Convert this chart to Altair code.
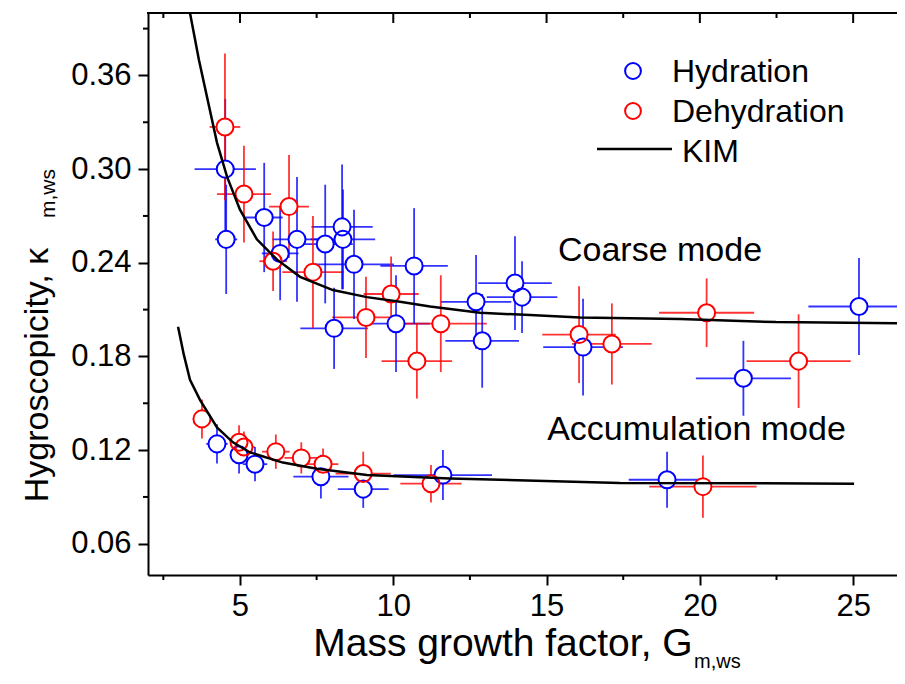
import altair as alt
import pandas as pd

FONT = "Liberation Sans"

# ---------------- data ----------------
# Coarse mode, hydration (blue)
hyd_c_x = [4.52, 4.55, 5.79, 6.31, 6.86, 7.78, 8.33, 8.36, 8.72, 8.07, 10.68, 10.09, 12.70, 12.90, 13.97, 14.20, 16.19, 21.42, 25.19]
hyd_c_y = [0.300, 0.255, 0.269, 0.246, 0.255, 0.252, 0.263, 0.255, 0.239, 0.198, 0.238, 0.201, 0.215, 0.190, 0.227, 0.218, 0.186, 0.166, 0.212]
hyd_c_xerr = [1.0, 0.36, 0.6, 0.6, 0.8, 0.9, 1.0, 1.05, 1.3, 1.1, 1.1, 1.1, 1.15, 1.2, 1.2, 1.15, 1.3, 1.55, 1.65]
hyd_c_yerr = [0.045, 0.035, 0.035, 0.030, 0.040, 0.038, 0.040, 0.032, 0.035, 0.026, 0.037, 0.031, 0.030, 0.030, 0.030, 0.023, 0.031, 0.024, 0.031]

# Coarse mode, dehydration (red)
deh_c_x = [4.51, 5.13, 6.60, 6.08, 7.38, 9.93, 11.55, 10.77, 9.11, 16.06, 17.13, 20.22, 23.22]
deh_c_y = [0.327, 0.284, 0.276, 0.241, 0.234, 0.220, 0.201, 0.177, 0.205, 0.194, 0.188, 0.208, 0.177]
deh_c_xerr = [0.5, 0.88, 0.65, 0.45, 1.0, 0.9, 1.5, 1.15, 1.1, 1.2, 1.3, 1.55, 1.7]
deh_c_yerr = [0.047, 0.031, 0.033, 0.019, 0.036, 0.024, 0.031, 0.024, 0.026, 0.031, 0.026, 0.022, 0.030]

# Accumulation mode, hydration (blue)
hyd_a_x = [4.25, 4.97, 5.49, 7.64, 9.02, 11.62, 18.93]
hyd_a_y = [0.124, 0.117, 0.111, 0.103, 0.095, 0.104, 0.101]
hyd_a_xerr = [0.35, 0.3, 0.4, 0.9, 0.83, 1.6, 1.25]
hyd_a_yerr = [0.0125, 0.012, 0.011, 0.014, 0.012, 0.016, 0.018]

# Accumulation mode, dehydration (red)
deh_a_x = [3.76, 4.97, 5.13, 6.17, 7.00, 7.71, 9.02, 11.23, 20.10]
deh_a_y = [0.140, 0.125, 0.122, 0.119, 0.115, 0.111, 0.105, 0.0985, 0.0966]
deh_a_xerr = [0.2, 0.3, 0.35, 0.45, 0.55, 0.5, 0.9, 1.0, 1.75]
deh_a_yerr = [0.0125, 0.011, 0.010, 0.011, 0.010, 0.010, 0.014, 0.012, 0.020]

# KIM curves
kim_c_x = [3.37, 3.66, 4.25, 4.58, 5.00, 5.55, 6.21, 6.96, 8.03, 9.14, 10.22, 11.20, 12.83, 14.46, 16.09, 19.35, 22.48, 27.0]
kim_c_y = [0.400, 0.370, 0.317, 0.295, 0.274, 0.255, 0.242, 0.231, 0.2225, 0.218, 0.215, 0.212, 0.208, 0.2065, 0.205, 0.204, 0.202, 0.2012]
kim_a_x = [2.98, 3.17, 3.37, 3.70, 4.25, 4.77, 5.33, 6.40, 7.51, 9.14, 11.85, 17.39, 25.03]
kim_a_y = [0.199, 0.181, 0.165, 0.152, 0.1345, 0.125, 0.1185, 0.112, 0.108, 0.104, 0.1018, 0.099, 0.0985]

x_major = [5, 10, 15, 20, 25]
x_minor = [2.5, 7.5, 12.5, 17.5, 22.5]
y_major = [0.06, 0.12, 0.18, 0.24, 0.30, 0.36]
y_minor = [0.09, 0.15, 0.21, 0.27, 0.33, 0.39]

series_names = ["Hydration", "Dehydration"]
series_colors = ["#0000ff", "#ff0000"]

annot_text = ["Coarse mode", "Accumulation mode"]
annot_x = [18.70, 19.89]
annot_y = [0.2474, 0.1328]

# ---------------- tables ----------------
def frame(xs, ys, xe, ye, series):
    return pd.DataFrame({
        "x": xs, "y": ys,
        "xlo": [a - b for a, b in zip(xs, xe)], "xhi": [a + b for a, b in zip(xs, xe)],
        "ylo": [a - b for a, b in zip(ys, ye)], "yhi": [a + b for a, b in zip(ys, ye)],
        "series": series,
    })

pts = pd.concat([
    frame(hyd_c_x, hyd_c_y, hyd_c_xerr, hyd_c_yerr, "Hydration"),
    frame(hyd_a_x, hyd_a_y, hyd_a_xerr, hyd_a_yerr, "Hydration"),
    frame(deh_c_x, deh_c_y, deh_c_xerr, deh_c_yerr, "Dehydration"),
    frame(deh_a_x, deh_a_y, deh_a_xerr, deh_a_yerr, "Dehydration"),
], ignore_index=True)

kim = pd.concat([
    pd.DataFrame({"x": kim_c_x, "y": kim_c_y, "mode": "coarse", "i": range(len(kim_c_x))}),
    pd.DataFrame({"x": kim_a_x, "y": kim_a_y, "mode": "acc", "i": range(len(kim_a_x))}),
], ignore_index=True)

annot = pd.DataFrame({"x": annot_x, "y": annot_y, "t": annot_text})
one = pd.DataFrame({"k": [0]})

XMAX = 26.43
W, H = 749, 562
xs = alt.Scale(domain=[2, XMAX], nice=False, zero=False)
ys = alt.Scale(domain=[0.04, 0.40], nice=False, zero=False)
xaxis = alt.Axis(values=x_major, format="d", tickSize=10, tickWidth=2, tickColor="black",
                 labelFontSize=31, labelFont=FONT, labelColor="black", labelPadding=6,
                 domain=True, domainColor="black", domainWidth=2,
                 grid=False, title=None, labelFlush=False)
yaxis = alt.Axis(values=y_major, format=".2f", tickSize=10, tickWidth=2, tickColor="black",
                 labelFontSize=31, labelFont=FONT, labelColor="black", labelPadding=7,
                 domain=True, domainColor="black", domainWidth=2,
                 grid=False, title=None, labelFlush=False)
color = alt.Color("series:N", scale=alt.Scale(domain=series_names, range=series_colors), legend=None)

def X(f):
    return alt.X(f, type="quantitative", scale=xs, axis=xaxis)

def Y(f):
    return alt.Y(f, type="quantitative", scale=ys, axis=yaxis)

base = alt.Chart(pts)

xbars = base.mark_rule(strokeWidth=1.8, opacity=0.8).encode(x=X("xlo"), x2="xhi", y=Y("y"), color=color)
ybars = base.mark_rule(strokeWidth=1.8, opacity=0.8).encode(x=X("x"), y=Y("ylo"), y2="yhi", color=color)
fills = base.mark_point(shape="circle", filled=True, color="white", opacity=1, size=290).encode(x=X("x"), y=Y("y"))
rings = base.mark_point(shape="circle", filled=False, strokeWidth=2, opacity=1, size=290).encode(
    x=X("x"), y=Y("y"), color=color)

lines = alt.Chart(kim).mark_line(color="black", strokeWidth=2.5, clip=True).encode(
    x=X("x"), y=Y("y"), detail="mode:N", order="i:Q")

labels = alt.Chart(annot).mark_text(font=FONT, fontSize=34, color="black", align="center", baseline="middle").encode(
    x=X("x"), y=Y("y"), text="t:N")

# minor / mirrored ticks and top frame line
xmaj_df = pd.DataFrame({"v": x_major})
xmin_df = pd.DataFrame({"v": x_minor})
ymin_df = pd.DataFrame({"v": y_minor})
tk = dict(color="black", strokeWidth=2)
ticks = [
    alt.Chart(xmin_df).mark_rule(**tk).encode(x=X("v"), y=alt.value(H), y2=alt.value(H + 5)),
    alt.Chart(xmaj_df).mark_rule(**tk).encode(x=X("v"), y=alt.value(0), y2=alt.value(10)),
    alt.Chart(xmin_df).mark_rule(**tk).encode(x=X("v"), y=alt.value(0), y2=alt.value(5)),
    alt.Chart(ymin_df).mark_rule(**tk).encode(y=Y("v"), x=alt.value(-5), x2=alt.value(0)),
    alt.Chart(one).mark_rule(**tk).encode(x=alt.value(-1), x2=alt.value(W), y=alt.value(0)),
]

# legend (drawn by hand, Origin style)
leg_sym = [
    alt.Chart(one).mark_point(shape="circle", filled=False, strokeWidth=2, size=250, color="#0000ff", opacity=1).encode(
        x=alt.value(485), y=alt.value(58)),
    alt.Chart(one).mark_point(shape="circle", filled=False, strokeWidth=2, size=250, color="#ff0000", opacity=1).encode(
        x=alt.value(485), y=alt.value(98)),
    alt.Chart(one).mark_rule(color="black", strokeWidth=2.5).encode(
        x=alt.value(449), x2=alt.value(524), y=alt.value(136)),
]
legtxt = dict(font=FONT, fontSize=32, color="black", align="left", baseline="alphabetic")
leg_text = [
    alt.Chart(one).mark_text(text="Hydration", **legtxt).encode(x=alt.value(524), y=alt.value(69)),
    alt.Chart(one).mark_text(text="Dehydration", **legtxt).encode(x=alt.value(524), y=alt.value(109)),
    alt.Chart(one).mark_text(text="KIM", **legtxt).encode(x=alt.value(534), y=alt.value(149)),
]

# axis titles with subscripts
titles = [
    alt.Chart(one).mark_text(text="Mass growth factor, G", font=FONT, fontSize=39, color="black",
                             align="center", baseline="alphabetic").encode(x=alt.value(355), y=alt.value(643)),
    alt.Chart(one).mark_text(text="m,ws", font=FONT, fontSize=20, color="black",
                             align="left", baseline="alphabetic").encode(x=alt.value(546), y=alt.value(655)),
    alt.Chart(one).mark_text(text="Hygroscopicity, κ", font=FONT, fontSize=34, color="black", angle=270,
                             align="center", baseline="alphabetic").encode(x=alt.value(-100), y=alt.value(362)),
    alt.Chart(one).mark_text(text="m,ws", font=FONT, fontSize=21, color="black", angle=270,
                             align="left", baseline="alphabetic").encode(x=alt.value(-93), y=alt.value(205)),
]

chart = alt.layer(
    xbars, ybars, fills, rings, lines, labels, *ticks, *leg_sym, *leg_text, *titles
).properties(
    width=W, height=H,
    autosize=alt.AutoSizeParams(type="none"),
    padding={"left": 140, "top": 5, "right": 0, "bottom": 100},
).configure_view(
    stroke=None
).configure(background="white")

chart.save("out.html", embed_options={"renderer": "svg", "actions": False})
